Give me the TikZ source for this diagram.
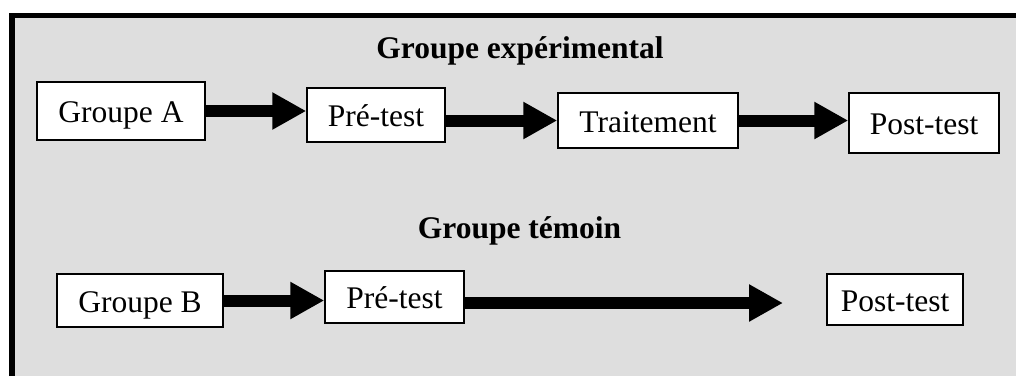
\documentclass[tikz,border=0pt]{standalone}
\usepackage{fontspec}
\setmainfont{Liberation Serif}
\usetikzlibrary{arrows.meta}
\definecolor{fond}{RGB}{222,222,222}

\begin{document}
\begin{tikzpicture}[x=1pt,y=-1pt]
                  \tikzstyle{every node}+=[inner sep=0pt, font=\fontsize{31.5}{36}\selectfont]
                  \tikzstyle{boite}=[draw=black, fill=white, line width=1.5pt, text height=23pt, text depth=0pt]
                  \tikzstyle{titre}=[font=\fontsize{31.5}{36}\selectfont\bfseries, anchor=base]
                  \tikzstyle{fleche}=[line width=12pt, -{Triangle[length=34pt,width=35pt]}]
                  \useasboundingbox (0,0) rectangle (1016,376);
                  % fond et cadre
                  \fill [fond] (12,15.5) rectangle (1016,376);
                  \draw [line width=5.5pt] (12,376) -- (12,15.5) -- (1016,15.5);
                  % groupe experimental
                  \node [titre] (t1) at (520,58) {Groupe expérimental};
                  \node [boite, minimum width=168pt, minimum height=58pt] (ga) at (121,111) {Groupe A};
                  \node [boite, minimum width=138pt, minimum height=54pt] (pa) at (376,115) {Pré-test};
                  \node [boite, minimum width=180pt, minimum height=55pt] (tr) at (648,120.5) {Traitement};
                  \node [boite, minimum width=150pt, minimum height=60pt] (po) at (924,123) {Post-test};
                  \draw [fleche] (ga.east) -- (ga.east -| pa.west);
                  \draw [fleche] (pa.east |- tr.west) -- (tr.west);
                  \draw [fleche] (tr.east) -- (tr.east -| po.west);
                  % groupe temoin
                  \node [titre] (t2) at (519.5,238) {Groupe témoin};
                  \node [boite, minimum width=166pt, minimum height=53pt] (gb) at (140,300.5) {Groupe B};
                  \node [boite, minimum width=139pt, minimum height=52pt] (pb) at (394.5,297) {Pré-test};
                  \node [boite, minimum width=136pt, minimum height=51pt] (pob) at (895,299.5) {Post-test};
                  \coordinate (fin) at (783,303);
                  \draw [fleche] (gb.east) -- (gb.east -| pb.west);
                  \draw [fleche] (pb.east |- fin) -- (fin);
              \end{tikzpicture}
\end{document}
